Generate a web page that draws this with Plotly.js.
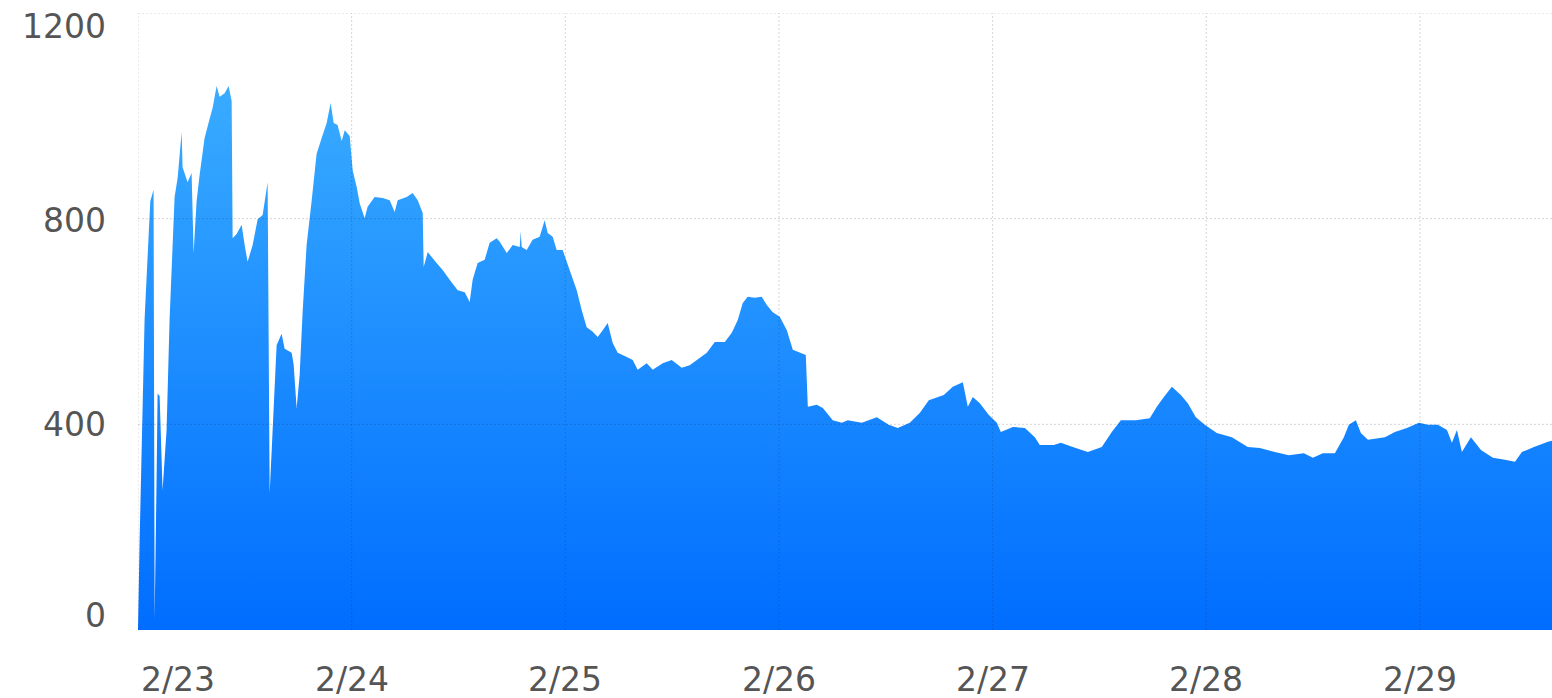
<!DOCTYPE html>
<html>
<head>
<meta charset="utf-8">
<script src="https://cdn.plot.ly/plotly-3.0.1.min.js"></script>
<style>
  html, body { margin: 0; padding: 0; background: #fff; }
  #chart { width: 1552px; height: 698px; }
</style>
</head>
<body>
<div id="chart"></div>
<script>
// Hours since 2/23 00:00 and the plotted values
const hours = [0, 0.18, 0.74, 1.38, 1.75, 1.87, 2.09, 2.20, 2.43, 2.76, 3.21, 3.55, 4.11, 4.45, 4.90, 5.01, 5.57, 6.02, 6.25, 6.58,
  6.92, 7.48, 8.04, 8.38, 8.83, 9.17, 9.73, 10.18, 10.52, 10.63, 11.08, 11.64, 11.98, 12.31, 12.88, 13.44, 14.00, 14.45, 14.56, 14.79,
  15.12, 15.57, 16.13, 16.47, 17.26, 17.48, 17.82, 18.16, 18.49, 18.94, 19.50, 20.06, 20.63, 21.19, 21.64, 21.98, 22.42, 22.88, 23.22, 23.78,
  24.12, 24.56, 24.90, 25.46, 25.79, 26.58, 27.48, 28.27, 28.83, 29.17, 30.18, 30.85, 31.42, 31.98, 32.09, 32.54, 33.54, 34.22, 35.01, 35.91,
  36.70, 37.26, 37.59, 38.15, 38.94, 39.50, 40.29, 40.63, 41.42, 42.09, 42.88, 42.99, 43.10, 43.66, 44.33, 45.12, 45.68, 46.02, 46.58, 47.03,
  47.70, 48.49, 49.28, 49.84, 50.40, 51.08, 51.64, 52.20, 52.76, 53.32, 53.88, 54.90, 55.57, 56.13, 57.14, 57.82, 58.94, 59.95, 61.07, 61.97,
  63.10, 63.89, 64.79, 65.91, 66.70, 67.37, 67.93, 68.49, 69.28, 70.06, 70.63, 71.30, 72.09, 72.88, 73.55, 74.33, 75.01, 75.24, 76.25, 76.92,
  78.04, 79.06, 79.73, 81.30, 82.99, 84.33, 85.34, 86.69, 87.81, 88.83, 90.51, 91.52, 92.65, 93.21, 93.77, 94.56, 95.57, 96.47, 96.92, 98.27,
  99.62, 100.74, 101.29, 102.87, 103.66, 105.00, 106.69, 108.26, 109.38, 110.40, 112.08, 113.65, 114.44, 115.23, 116.13, 117.14, 117.92, 118.82, 119.83, 121.18,
  122.87, 124.66, 126.01, 127.70, 129.27, 130.96, 131.97, 133.09, 134.44, 135.45, 136.01, 136.80, 137.36, 138.15, 139.05, 140.06, 141.18, 142.53, 143.88, 144.89,
  146.01, 147.03, 147.59, 148.15, 148.71, 149.72, 150.85, 152.19, 153.54, 154.67, 155.45, 156.80, 158.38, 158.83];

const values = [0, 173, 605, 834, 856, 20, 300, 460, 455, 272, 389, 605, 842, 879, 968, 900, 871, 889, 733, 834,
  885, 957, 994, 1015, 1058, 1037, 1044, 1058, 1029, 762, 770, 788, 749, 716, 749, 799, 807, 856, 871, 266,
  395, 554, 576, 547, 539, 517, 432, 496, 618, 749, 834, 926, 957, 986, 1025, 986, 982, 951, 972, 961,
  893, 862, 830, 801, 823, 842, 840, 836, 813, 836, 842, 850, 836, 811, 706, 735, 714, 700, 681, 661,
  657, 638, 681, 714, 720, 753, 762, 755, 733, 749, 745, 775, 745, 739, 759, 765, 797, 772, 765, 739,
  739, 700, 661, 622, 589, 580, 570, 583, 597, 558, 539, 531, 525, 506, 519, 506, 519, 525, 510, 515,
  529, 539, 560, 560, 578, 603, 636, 648, 646, 648, 632, 618, 609, 583, 545, 539, 535, 434, 438, 432,
  408, 403, 408, 403, 414, 399, 393, 403, 422, 447, 457, 473, 482, 434, 453, 441, 418, 403, 385, 395,
  393, 375, 360, 360, 364, 356, 346, 356, 385, 408, 408, 412, 434, 453, 473, 457, 441, 414, 399, 383,
  375, 356, 354, 346, 340, 344, 335, 344, 344, 375, 399, 408, 383, 370, 373, 375, 385, 393, 403, 399,
  399, 389, 364, 389, 346, 375, 350, 335, 331, 327, 346, 356, 366, 368];

const dayTicks = ['2016-02-23', '2016-02-24', '2016-02-25', '2016-02-26', '2016-02-27', '2016-02-28', '2016-02-29'];
const dayLabels = ['2/23', '2/24', '2/25', '2/26', '2/27', '2/28', '2/29'];
const yTicks = [0, 400, 800, 1200];
const yLabels = ['0', '400', '800', '1200'];

const startMs = Date.UTC(2016, 1, 23, 0, 0, 0);
function toIso(h) {
  const d = new Date(startMs + h * 3600000);
  return d.toISOString().replace('T', ' ').slice(0, 19);
}
const times = hours.map(toIso);
const xEnd = toIso(hours[hours.length - 1]);

const labelFont = { family: 'DejaVu Sans, sans-serif', size: 33, color: '#555555' };

const shapes = [];
yTicks.filter(v => v > 0).forEach(v => {
  shapes.push({ type: 'line', xref: 'paper', yref: 'y', x0: 0, x1: 1, y0: v, y1: v,
    layer: 'above', line: { color: 'rgba(40,40,70,0.2)', width: 1, dash: '2px,2px' } });
});
dayTicks.forEach(d => {
  shapes.push({ type: 'line', xref: 'x', yref: 'y', x0: d, x1: d, y0: 0, y1: 1200,
    layer: 'above', line: { color: 'rgba(40,40,70,0.2)', width: 1, dash: '2px,2px' } });
});

const yShifts = { 0: 15, 400: 0, 800: -2, 1200: -13 };
const annotations = [];
yTicks.forEach((v, i) => {
  annotations.push({ xref: 'paper', yref: 'y', x: 0, y: v, text: yLabels[i], showarrow: false,
    xanchor: 'right', yanchor: 'middle', xshift: -30, yshift: yShifts[v], font: labelFont });
});
dayTicks.forEach((d, i) => {
  annotations.push({ xref: 'x', yref: 'paper', x: d, y: 0, text: dayLabels[i], showarrow: false,
    xanchor: i === 0 ? 'left' : 'center', yanchor: 'middle', xshift: i === 0 ? 1 : 0, yshift: -49, font: labelFont });
});

const trace = {
  type: 'scatter',
  mode: 'lines',
  x: times,
  y: values,
  fill: 'tozeroy',
  line: { width: 0, color: '#2a95ff', shape: 'linear' },
  fillgradient: {
    type: 'vertical',
    colorscale: [[0, '#006dff'], [1, '#3aadff']],
    start: 0,
    stop: 1080
  },
  hoverinfo: 'skip'
};

const layout = {
  width: 1552,
  height: 698,
  margin: { l: 138, r: 0, t: 13, b: 68, pad: 0 },
  paper_bgcolor: '#ffffff',
  plot_bgcolor: '#ffffff',
  showlegend: false,
  xaxis: {
    type: 'date',
    range: [dayTicks[0] + ' 00:00:00', xEnd],
    showgrid: false,
    zeroline: false,
    showline: false,
    showticklabels: false,
    ticks: ''
  },
  yaxis: {
    range: [0, 1200],
    showgrid: false,
    zeroline: false,
    showline: false,
    showticklabels: false,
    ticks: ''
  },
  shapes: shapes,
  annotations: annotations
};

Plotly.newPlot('chart', [trace], layout, { staticPlot: true, displayModeBar: false });
</script>
</body>
</html>
